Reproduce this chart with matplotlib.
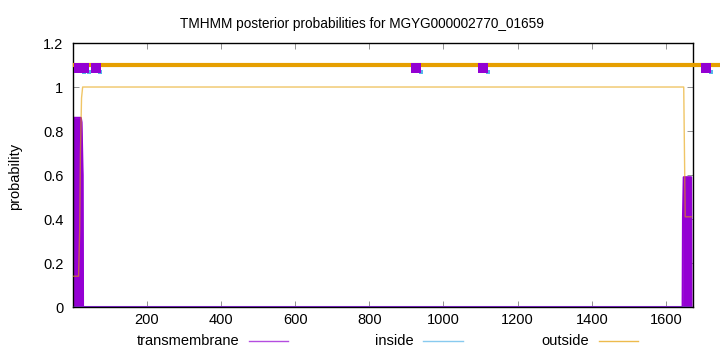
import matplotlib
matplotlib.use("Agg")
import matplotlib.pyplot as plt

plt.rcParams['font.family'] = ['Liberation Sans', 'DejaVu Sans']

# sequence length and profiles
seq_len = 1673
tm_x = [1, 3, 4, 22, 24, 27, 28, 1645, 1646, 1648, 1652, 1668, 1669]
tm_y = [0.0, 0.0, 0.86, 0.86, 0.84, 0.6, 0.0, 0.0, 0.41, 0.59, 0.59, 0.59, 0.0]
out_x = [1, 16, 19, 21, 24, 27, 1648, 1650, 1652, 1668]
out_y = [0.14, 0.14, 0.35, 0.7, 0.95, 1.0, 1.0, 0.7, 0.41, 0.41]
in_x = [1, 1668]
in_y = [0.0, 0.0]

# topology marks on top
top_line_y = 1.102
tm_marks_x = [18, 30, 62, 926, 1106, 1708]
mark_y = 1.085
ticks_x = [200, 400, 600, 800, 1000, 1200, 1400, 1600]
ticks_y = [0, 0.2, 0.4, 0.6, 0.8, 1, 1.2]
ticks_y_lab = ['0', '0.2', '0.4', '0.6', '0.8', '1', '1.2']

purple = '#9400d3'
blue = '#56b4e9'
orange = '#e69f00'
fs = 10.5

fig = plt.figure(figsize=(7.2, 3.52), dpi=100)
ax = fig.add_axes([0.1014, 0.1278, 0.8611, 0.75])

ax.fill_between(tm_x, tm_y, 0, color=purple, linewidth=0, zorder=2)
ax.plot(tm_x, tm_y, color=purple, lw=1.5, zorder=2)
ax.plot(in_x, in_y, color=blue, lw=1, zorder=3)
ax.plot(out_x, out_y, color=orange, lw=1, alpha=0.6, zorder=3)

# thick outside bar at top, running past the frame
ax.plot([1, 1900], [top_line_y, top_line_y], color=orange, lw=3, clip_on=False, zorder=4,
        solid_capstyle='butt')
ax.plot([x + 13 for x in tm_marks_x], [mark_y - 0.018] * len(tm_marks_x), 's', ms=2.2,
        color=blue, mew=0, clip_on=False, zorder=4)
ax.plot(tm_marks_x, [mark_y] * len(tm_marks_x), 's', ms=6.8, color=purple, mew=0,
        clip_on=False, zorder=5)

ax.set_xlim(1, seq_len)
ax.set_ylim(0, 1.2)
ax.set_xticks(ticks_x)
ax.set_yticks(ticks_y)
ax.set_yticklabels(ticks_y_lab)
ax.tick_params(direction='in', top=True, right=True, length=4, width=0.6,
               labelsize=fs, color='#808080')
ax.tick_params(axis='x', pad=4)
ax.tick_params(axis='y', pad=7)
for s in ax.spines.values():
    s.set_linewidth(1)
    s.set_color('black')

fig.text(0.502, 0.932, 'TMHMM posterior probabilities for MGYG000002770_01659',
         ha='center', va='center', fontsize=9.8)
fig.text(0.021, 0.5, 'probability', rotation=90, ha='center', va='center', fontsize=fs)

# legend drawn like gnuplot: text then a short line
leg = [('transmembrane', purple, 0.332, 0.346, 0.400),
       ('inside', blue, 0.575, 0.588, 0.643),
       ('outside', orange, 0.818, 0.832, 0.886)]
for name, col, tx, l0, l1 in leg:
    fig.text(tx, 0.032, name, ha='right', va='center', fontsize=fs)
    fig.add_artist(plt.Line2D([l0, l1], [0.032, 0.032], color=col, lw=1, alpha=0.7,
                              transform=fig.transFigure))

fig.savefig('out.png', dpi=100)
